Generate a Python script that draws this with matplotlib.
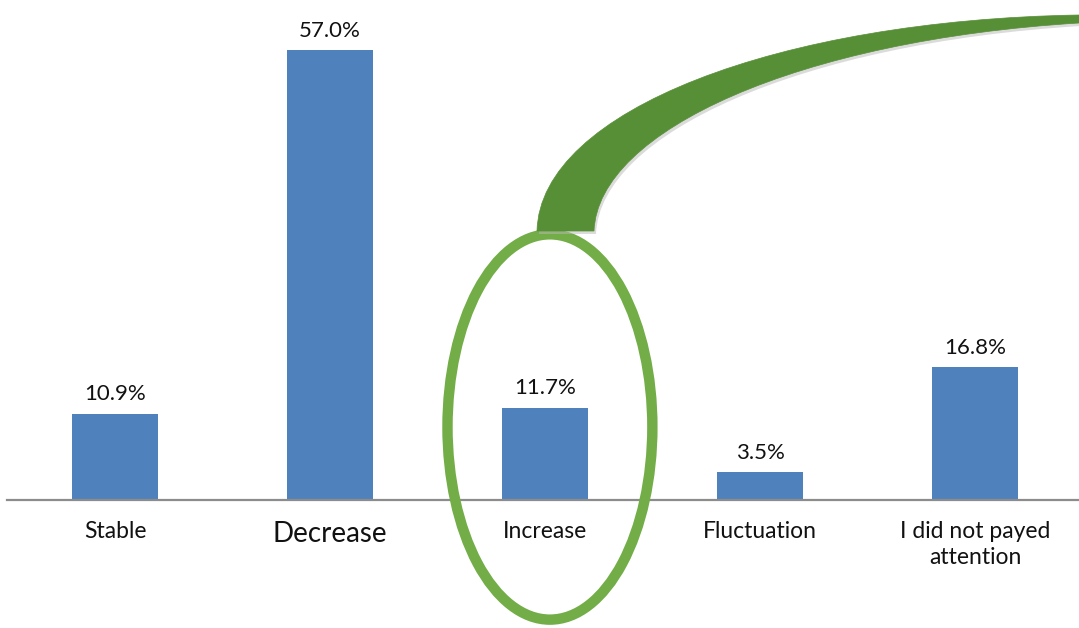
import numpy as np
import matplotlib.pyplot as plt
from matplotlib.patches import Ellipse, PathPatch
from matplotlib.path import Path as MPath

plt.rcParams['font.family'] = ['Lato', 'DejaVu Sans']

# data
categories = ["Stable", "Decrease", "Increase", "Fluctuation", "I did not payed\nattention"]
values = [10.9, 57.0, 11.7, 3.5, 16.8]
value_labels = ["10.9%", "57.0%", "11.7%", "3.5%", "16.8%"]

W, H = 1079, 628
fig = plt.figure(figsize=(W / 100, H / 100), dpi=100)
ax = fig.add_axes([0, 0, 1, 1])

x = np.arange(len(categories))
ax.bar(x, values, width=0.4, color='#4F81BD', zorder=2)
ax.set_xlim(-0.535, 4.484)
ax.set_ylim(-16.21, 63.33)
ax.axis('off')
ax.axhline(0, xmin=7 / W, xmax=1, color='#8c8c8c', lw=1.6, zorder=3)

for xi, v, lab in zip(x, values, value_labels):
    ax.text(xi, v + 1.2, lab, ha='center', va='bottom', fontsize=16, color='#111111')

for xi, c in zip(x, categories):
    fs = 20 if c == "Decrease" else 16.5
    ax.text(xi, -2.7, c, ha='center', va='top', fontsize=fs, color='#111111', linespacing=1.3)

# green ellipse around "Increase"
ell = Ellipse((2.023, 9.25), 0.953, 48.8, fill=False, edgecolor='#72AD47', lw=7.5,
              zorder=4, clip_on=False)
ax.add_patch(ell)

# green swoosh (figure pixel coords, y from top)
verts = [(537, 231), (540, 110), (780, 20), (1079, 15),
         (1079, 23),
         (800, 40), (598, 130), (594, 231),
         (537, 231)]
codes = [MPath.MOVETO, MPath.CURVE4, MPath.CURVE4, MPath.CURVE4,
         MPath.LINETO,
         MPath.CURVE4, MPath.CURVE4, MPath.CURVE4,
         MPath.CLOSEPOLY]

def to_fig(p, dx=0, dy=0):
    return ((p[0] + dx) / W, 1 - (p[1] + dy) / H)

shadow = PathPatch(MPath([to_fig(p, 2, 3) for p in verts], codes), transform=fig.transFigure,
                   facecolor='#b8b8b8', edgecolor='none', alpha=0.5, zorder=5)
fig.add_artist(shadow)
sw = PathPatch(MPath([to_fig(p) for p in verts], codes), transform=fig.transFigure,
               facecolor='#578F36', edgecolor='#578F36', lw=0.5, zorder=6)
fig.add_artist(sw)

fig.savefig('out.png', dpi=100)
